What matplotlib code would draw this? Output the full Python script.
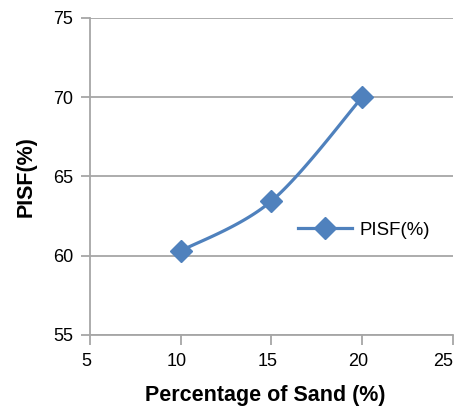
import numpy as np
import matplotlib
matplotlib.use('Agg')
import matplotlib.pyplot as plt
import matplotlib.transforms as mtransforms

# data
sand = [10, 15, 20]
pisf = [60.3, 63.45, 70.0]
xticks = [5, 10, 15, 20, 25]
yticks = [55, 60, 65, 70, 75]

blue = '#4F81BD'
grey = '#A6A6A6'

plt.rcParams['font.family'] = ['Liberation Sans', 'DejaVu Sans']

fig = plt.figure(figsize=(4.65, 4.13), dpi=100)
ax = fig.add_axes([0.1935, 0.189, 0.7806, 0.7676])
ax.set_xlim(5, 25)
ax.set_ylim(55, 75)


def smooth(ax, xs, ys, n=40):
    # Excel-style smoothed line: cardinal bezier built in screen space
    pts = ax.transData.transform(np.column_stack([xs, ys]))
    p = np.vstack([pts[0], pts, pts[-1]])
    out = []
    for i in range(1, len(p) - 2):
        p0, p1, p2, p3 = p[i - 1], p[i], p[i + 1], p[i + 2]
        c1 = p1 + (p2 - p0) / 6.0
        c2 = p2 - (p3 - p1) / 6.0
        t = np.linspace(0, 1, n)[:, None]
        seg = ((1 - t) ** 3) * p1 + 3 * ((1 - t) ** 2) * t * c1 + 3 * (1 - t) * t ** 2 * c2 + t ** 3 * p2
        out.append(seg)
    out = np.vstack(out)
    return ax.transData.inverted().transform(out)


curve = smooth(ax, sand, pisf)
ax.plot(curve[:, 0], curve[:, 1], color=blue, lw=2.3, solid_capstyle='round', zorder=3)
ax.plot(sand, pisf, linestyle='none', marker='D', markersize=11, color=blue, zorder=4)
# legend proxy
ax.plot([], [], color=blue, lw=2.3, marker='D', markersize=11, label='PISF(%)')

ax.set_xticks(xticks)
ax.set_yticks(yticks)
ax.yaxis.grid(True, color=grey, lw=1.3)
ax.set_axisbelow(True)
for s in ['top', 'right']:
    ax.spines[s].set_visible(False)
for s in ['left', 'bottom']:
    ax.spines[s].set_color(grey)
    ax.spines[s].set_linewidth(1.3)
ax.tick_params(direction='out', width=1.3, color=grey, labelsize=13)
ax.tick_params(axis='x', length=7.2, pad=5.5)
ax.tick_params(axis='y', length=6.5, pad=5.5)

# excel nudges the x labels a bit left, last one kept inside
shift = mtransforms.ScaledTranslation(-0.04, 0, fig.dpi_scale_trans)
xlabels = ax.get_xticklabels()
for lab in xlabels[:-1]:
    lab.set_transform(lab.get_transform() + shift)
xlabels[-1].set_horizontalalignment('right')

ax.set_xlabel('Percentage of Sand (%)', fontsize=15.5, fontweight='bold')
ax.set_ylabel('PISF(%)', fontsize=15.5, fontweight='bold')
ax.xaxis.set_label_coords(0.483, -0.158)
ax.yaxis.set_label_coords(-0.148, 0.5)

ax.legend(loc='center left', bbox_to_anchor=(0.573, 0.331), frameon=False, fontsize=13.4,
          handlelength=2.9, handletextpad=0.38, borderpad=0, borderaxespad=0)

fig.savefig('out.png', dpi=100)
